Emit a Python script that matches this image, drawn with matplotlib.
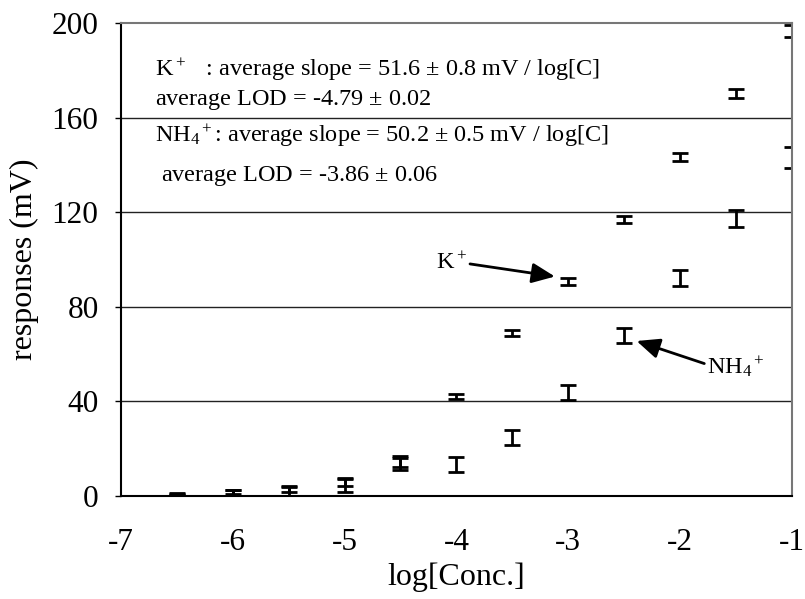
import matplotlib
matplotlib.use("Agg")
import matplotlib.pyplot as plt

plt.rcParams['font.family'] = ['Liberation Serif', 'DejaVu Serif']
plt.rcParams['mathtext.fontset'] = 'custom'
plt.rcParams['mathtext.rm'] = 'Liberation Serif'
plt.rcParams['mathtext.it'] = 'Liberation Serif:italic'

log_conc = [-6.5, -6.0, -5.5, -5.0, -4.5, -4.0, -3.5, -3.0, -2.5, -2.0, -1.5, -1.0]
k_resp = [0.8, 1.5, 2.5, 5.5, 14.5, 42.0, 68.8, 90.6, 117.0, 143.5, 170.5, 196.7]
k_err = [0.5, 0.8, 1.0, 1.5, 2.5, 1.2, 1.2, 1.4, 1.5, 1.7, 1.9, 2.6]
nh4_resp = [0.3, 1.0, 2.0, 4.5, 13.5, 13.2, 24.5, 43.7, 67.7, 92.2, 117.4, 143.2]
nh4_err = [0.5, 1.5, 2.0, 3.0, 2.5, 3.0, 3.2, 3.2, 3.2, 3.5, 3.5, 4.5]

xticks = [-7, -6, -5, -4, -3, -2, -1]
yticks = [0, 40, 80, 120, 160, 200]

fig = plt.figure(figsize=(8.05, 5.99), dpi=100)
ax = fig.add_axes([0.15, 0.1725, 0.834, 0.7885])

for y, e in [(k_resp, k_err), (nh4_resp, nh4_err)]:
    ax.errorbar(log_conc, y, yerr=e, fmt='none', ecolor='black',
                elinewidth=2, capsize=6, capthick=2)

ax.set_xlim(-7, -1)
ax.set_ylim(0, 200)
ax.set_xticks(xticks)
ax.set_yticks(yticks)
ax.set_xticklabels([str(t) for t in xticks])
ax.set_yticklabels([str(t) for t in yticks])
ax.tick_params(axis='both', labelsize=22.5)
ax.tick_params(axis='x', length=0, pad=23)
ax.tick_params(axis='y', length=4, width=1, direction='out', pad=12)

for g in [40, 80, 120, 160]:
    ax.axhline(g, color='#222222', lw=1, zorder=0)

ax.spines['left'].set_linewidth(1.5)
ax.spines['bottom'].set_linewidth(1.5)
ax.spines['top'].set_color('#777777')
ax.spines['right'].set_color('#777777')
ax.spines['top'].set_linewidth(1.5)
ax.spines['right'].set_linewidth(1.5)

ax.set_xlabel('log[Conc.]', fontsize=23, labelpad=4)
ax.set_ylabel('responses (mV)', fontsize=23, labelpad=9)

fs = 17.5
ax.text(-6.69, 180.5, r'K$^+$   : average slope = 51.6 $\pm$ 0.8 mV / log[C]', fontsize=fs, va='center')
ax.text(-6.69, 167.5, r'average LOD = -4.79 $\pm$ 0.02', fontsize=fs, va='center')
ax.text(-6.69, 152.5, r'NH$_4$$^+$: average slope = 50.2 $\pm$ 0.5 mV / log[C]', fontsize=fs, va='center')
ax.text(-6.69, 135.5, r' average LOD = -3.86 $\pm$ 0.06', fontsize=fs, va='center')

ax.annotate(r'K$^+$', xy=(-3.12, 92.8), xytext=(-4.18, 98.5), fontsize=17.5,
            va='center', ha='left',
            arrowprops=dict(arrowstyle='-|>,head_length=0.8,head_width=0.35',
                            color='black', lw=2, shrinkA=0, shrinkB=0,
                            relpos=(0.9, 0.5)))
ax.annotate(r'NH$_4$$^+$', xy=(-2.39, 65.5), xytext=(-1.76, 54.5), fontsize=17.5,
            va='center', ha='left',
            arrowprops=dict(arrowstyle='-|>,head_length=0.8,head_width=0.35',
                            color='black', lw=2, shrinkA=0, shrinkB=0,
                            relpos=(0.0, 0.6)))

fig.savefig('out.png', dpi=100)
